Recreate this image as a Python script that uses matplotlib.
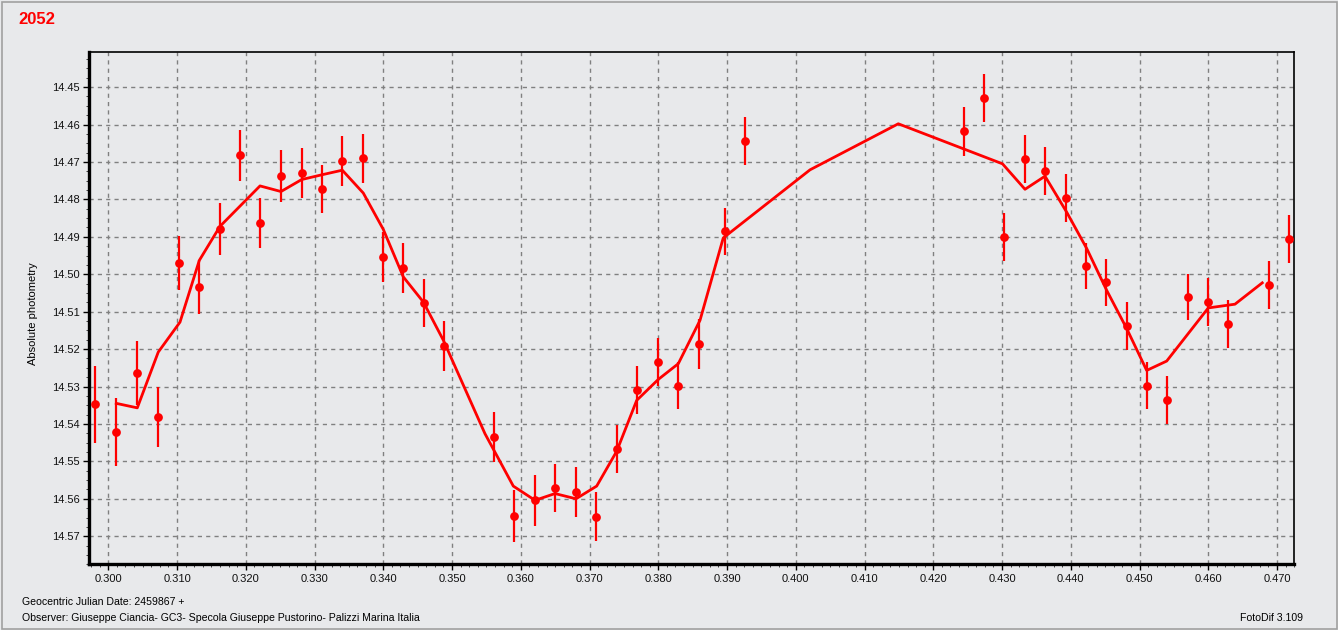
import matplotlib
matplotlib.use("Agg")
import matplotlib.pyplot as plt
from matplotlib.ticker import MultipleLocator, FormatStrFormatter
from matplotlib.patches import Rectangle

# ---- data ----
x_obs = [0.29807, 0.30112, 0.30422, 0.30727, 0.31028, 0.31324, 0.31625, 0.31916,
         0.32207, 0.32512, 0.32813, 0.33113, 0.33404, 0.33709, 0.34000, 0.34291,
         0.34592, 0.34887, 0.35610, 0.35897, 0.36207, 0.36497, 0.36803, 0.37094,
         0.37395, 0.37695, 0.38000, 0.38291, 0.38592, 0.38970, 0.39261, 0.42447,
         0.42738, 0.43029, 0.43334, 0.43625, 0.43930, 0.44221, 0.44512, 0.44813,
         0.45104, 0.45399, 0.45705, 0.46000, 0.46287, 0.46883, 0.47174]
mag_obs = [14.5347, 14.5421, 14.5264, 14.5381, 14.4970, 14.5034, 14.4879, 14.4682,
           14.4863, 14.4738, 14.4730, 14.4772, 14.4698, 14.4690, 14.4954, 14.4983,
           14.5077, 14.5192, 14.5435, 14.5646, 14.5604, 14.5571, 14.5582, 14.5648,
           14.5467, 14.5310, 14.5235, 14.5298, 14.5187, 14.4885, 14.4644, 14.4618,
           14.4530, 14.4901, 14.4692, 14.4724, 14.4797, 14.4978, 14.5022, 14.5138,
           14.5298, 14.5335, 14.5061, 14.5074, 14.5134, 14.5029, 14.4906]
err_obs = [0.0103, 0.0091, 0.0085, 0.0080, 0.0073, 0.0071, 0.0069, 0.0068,
           0.0066, 0.0069, 0.0067, 0.0065, 0.0067, 0.0065, 0.0067, 0.0067,
           0.0065, 0.0067, 0.0068, 0.0070, 0.0068, 0.0065, 0.0067, 0.0065,
           0.0065, 0.0064, 0.0064, 0.0063, 0.0067, 0.0063, 0.0063, 0.0065,
           0.0064, 0.0064, 0.0063, 0.0065, 0.0064, 0.0062, 0.0063, 0.0064,
           0.0063, 0.0064, 0.0061, 0.0064, 0.0064, 0.0064, 0.0065]

x_model = [0.30116, 0.30422, 0.30727, 0.31043, 0.31324, 0.31625, 0.31916, 0.32207,
           0.32512, 0.32813, 0.33113, 0.33404, 0.33709, 0.34000, 0.34291, 0.34582,
           0.34873, 0.35479, 0.35891, 0.36207, 0.36498, 0.36803, 0.37104, 0.37395,
           0.37686, 0.38000, 0.38291, 0.38607, 0.38945, 0.40207, 0.41491, 0.43007,
           0.43334, 0.43625, 0.43940, 0.44231, 0.44522, 0.44813, 0.45104, 0.45395,
           0.46000, 0.46388, 0.46785]
mag_model = [14.5345, 14.5357, 14.5208, 14.5128, 14.4963, 14.4872, 14.4818, 14.4764,
             14.4779, 14.4747, 14.4734, 14.4722, 14.4783, 14.4880, 14.5007, 14.5074,
             14.5176, 14.5426, 14.5566, 14.5604, 14.5586, 14.5600, 14.5566, 14.5473,
             14.5337, 14.5281, 14.5239, 14.5123, 14.4903, 14.4721, 14.4598, 14.4705,
             14.4773, 14.4738, 14.4834, 14.4931, 14.5043, 14.5145, 14.5257, 14.5232,
             14.5090, 14.5080, 14.5023]

x_ticks = [0.300, 0.310, 0.320, 0.330, 0.340, 0.350, 0.360, 0.370, 0.380,
           0.390, 0.400, 0.410, 0.420, 0.430, 0.440, 0.450, 0.460, 0.470]
y_ticks = [14.45, 14.46, 14.47, 14.48, 14.49, 14.50, 14.51, 14.52, 14.53,
           14.54, 14.55, 14.56, 14.57]

title_text = "2052"
y_label = "Absolute photometry"
footer1 = "Geocentric Julian Date: 2459867 +"
footer2 = "Observer: Giuseppe Ciancia- GC3- Specola Giuseppe Pustorino- Palizzi Marina Italia"
footer3 = "FotoDif 3.109"

# ---- figure ----
BG = "#e8e9eb"
RED = "#ff0000"
plt.rcParams['font.family'] = ['Liberation Sans', 'DejaVu Sans']

fig = plt.figure(figsize=(13.38, 6.30), dpi=100, facecolor=BG)
ax = fig.add_axes([89.3 / 1338, 1 - 564.3 / 630, (1294.3 - 89.3) / 1338, (564.3 - 52.3) / 630])
ax.set_facecolor(BG)

# frame around the whole figure
fig.patches.append(Rectangle((1.5 / 1338, 1.5 / 630), 1 - 3 / 1338, 1 - 3 / 630,
                             transform=fig.transFigure, fill=False,
                             edgecolor="#a0a0a0", linewidth=1.2))

ax.set_xlim(0.29724, 0.47251)
ax.set_ylim(14.5775, 14.4407)

ax.set_xticks(x_ticks)
ax.set_yticks(y_ticks)
ax.xaxis.set_major_formatter(FormatStrFormatter('%.3f'))
ax.yaxis.set_major_formatter(FormatStrFormatter('%.2f'))
ax.xaxis.set_minor_locator(MultipleLocator(0.00125))
ax.yaxis.set_minor_locator(MultipleLocator(0.0025))
ax.tick_params(axis='both', which='major', length=4, width=1, color='black',
               labelsize=8, labelcolor='#101010')
ax.tick_params(axis='both', which='minor', length=2, width=0.7, color='#404040')
ax.tick_params(axis='x', which='major', pad=3)
ax.tick_params(axis='y', which='major', pad=3)

ax.grid(True, which='major', color='#808080', linestyle=(0, (3, 3)), linewidth=1)
ax.set_axisbelow(True)

for s in ['left', 'bottom']:
    ax.spines[s].set_linewidth(2.4)
for s in ['top', 'right']:
    ax.spines[s].set_linewidth(1.2)
for s in ax.spines.values():
    s.set_color('black')

ax.errorbar(x_obs, mag_obs, yerr=err_obs, fmt='none', ecolor=RED,
            elinewidth=1.6, capsize=0, zorder=3)
ax.plot(x_model, mag_model, color=RED, linewidth=2, zorder=4)
ax.plot(x_obs, mag_obs, 'o', color=RED, markersize=6.3, markeredgewidth=0, zorder=5)

ax.set_ylabel(y_label, fontsize=8)
ax.yaxis.set_label_coords((38 - 89.3) / 1205.0, 0.49)

fig.text(18 / 1338, 1 - 19 / 630, title_text, color=RED, fontsize=12,
         fontweight='bold', ha='left', va='center')
fig.text(22 / 1338, 1 - 602 / 630, footer1, fontsize=7.6, ha='left', va='center')
fig.text(22 / 1338, 1 - 618 / 630, footer2, fontsize=7.6, ha='left', va='center')
fig.text(1303 / 1338, 1 - 618 / 630, footer3, fontsize=7.6, ha='right', va='center')

fig.savefig("out.png", dpi=100, facecolor=BG)
